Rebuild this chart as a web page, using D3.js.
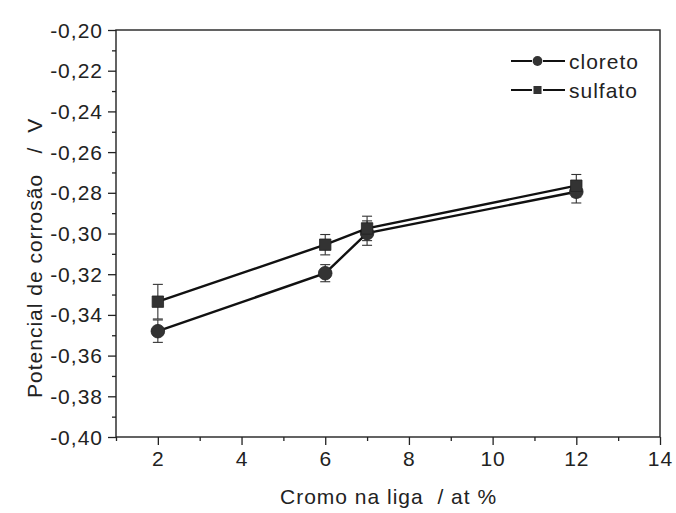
<!DOCTYPE html>
<html>
<head>
<meta charset="utf-8">
<script src="https://cdn.jsdelivr.net/npm/d3@7"></script>
<style>
  body { margin: 0; background: #fff; }
  text { font-family: "Liberation Sans", Arial, sans-serif; fill: #222; letter-spacing: 1px; }
  .title { white-space: pre; }
</style>
</head>
<body>
<svg id="chart" width="676" height="513"></svg>
<script>
// data
const cromo = [2, 6, 7, 12];
const cloreto = [-0.348, -0.3195, -0.2998, -0.2795];
const cloretoErr = [0.0055, 0.0042, 0.006, 0.0055];
const sulfato = [-0.3335, -0.3055, -0.2975, -0.2765];
const sulfatoErr = [0.0085, 0.005, 0.006, 0.0055];
const xTicks = [2, 4, 6, 8, 10, 12, 14];
const yTicks = [-0.40, -0.38, -0.36, -0.34, -0.32, -0.30, -0.28, -0.26, -0.24, -0.22, -0.20];

const svg = d3.select('#chart');
const W = 676, H = 513;
const m = {left: 116, right: 16, top: 30, bottom: 76};

const x = d3.scaleLinear().domain([1, 14]).range([m.left, W - m.right]);
const y = d3.scaleLinear().domain([-0.40, -0.20]).range([H - m.bottom, m.top]);

const fmt = d => d3.format('.2f')(d).replace('.', ',').replace('−', '-');

// frame
svg.append('rect')
   .attr('x', x(1)).attr('y', y(-0.20))
   .attr('width', x(14) - x(1)).attr('height', y(-0.40) - y(-0.20))
   .attr('fill', 'none').attr('stroke', '#222').attr('stroke-width', 1.4);

// x axis
const xAx = svg.append('g').attr('transform', `translate(0,${y(-0.40)})`);
xAx.call(d3.axisBottom(x).tickValues(d3.range(1, 15)).tickFormat(''))
   .call(g => g.select('.domain').remove())
   .call(g => g.selectAll('.tick line').attr('stroke', '#222').attr('stroke-width', 1.3)
                .attr('y2', d => d % 2 === 0 ? 8 : 4));
xAx.call(g => g.selectAll('.xl').data(xTicks).join('text')
   .attr('class', 'xl')
   .attr('x', d => x(d) + 0.5).attr('y', 29)
   .attr('text-anchor', 'middle')
   .attr('font-size', 21)
   .text(d => d));

// y axis
const yAx = svg.append('g').attr('transform', `translate(${x(1)},0)`);
yAx.call(d3.axisLeft(y).tickValues(d3.range(0, 21).map(i => -0.40 + i * 0.01)).tickFormat(''))
   .call(g => g.select('.domain').remove())
   .call(g => g.selectAll('.tick line').attr('stroke', '#222').attr('stroke-width', 1.3)
                .attr('x2', (d, i) => i % 2 === 0 ? -8 : -4));
yAx.call(g => g.selectAll('.yl').data(yTicks).join('text')
   .attr('class', 'yl')
   .attr('x', -13).attr('y', d => y(d))
   .attr('dy', '0.36em')
   .attr('text-anchor', 'end')
   .attr('font-size', 21)
   .text(fmt));

// axis titles
svg.append('text').attr('class', 'title')
   .attr('x', 280).attr('y', 504)
   .attr('font-size', 21)
   .text('Cromo na liga  / at %');
svg.append('text').attr('class', 'title')
   .attr('transform', `translate(42,398) rotate(-90)`)
   .attr('font-size', 21)
   .text('Potencial de corrosão   /  V');

const line = d3.line().x(d => x(d[0])).y(d => y(d[1]));

function drawSeries(vals, errs, shape) {
  const pts = cromo.map((c, i) => [c, vals[i], errs[i]]);
  const g = svg.append('g');
  g.append('path').datum(pts)
   .attr('d', line).attr('fill', 'none')
   .attr('stroke', '#111').attr('stroke-width', 2.4);
  // error bars
  const eb = g.selectAll('.eb').data(pts).join('g');
  eb.append('line')
    .attr('x1', d => x(d[0])).attr('x2', d => x(d[0]))
    .attr('y1', d => y(d[1] - d[2])).attr('y2', d => y(d[1] + d[2]))
    .attr('stroke', '#333').attr('stroke-width', 1.1);
  [-1, 1].forEach(s => eb.append('line')
    .attr('x1', d => x(d[0]) - 5).attr('x2', d => x(d[0]) + 5)
    .attr('y1', d => y(d[1] + s * d[2])).attr('y2', d => y(d[1] + s * d[2]))
    .attr('stroke', '#333').attr('stroke-width', 1.1));
  // markers
  g.selectAll('.mk').data(pts).join('path')
   .attr('transform', d => `translate(${x(d[0])},${y(d[1])})`)
   .attr('d', d3.symbol().type(shape).size(shape === d3.symbolCircle ? 145 : 130))
   .attr('fill', '#333').attr('stroke', '#222').attr('stroke-width', 0.8);
}

drawSeries(cloreto, cloretoErr, d3.symbolCircle);
drawSeries(sulfato, sulfatoErr, d3.symbolSquare);

// legend
const legend = [
  {name: 'cloreto', shape: d3.symbolCircle, y: 61},
  {name: 'sulfato', shape: d3.symbolSquare, y: 90}
];
const lg = svg.append('g');
legend.forEach(l => {
  [[511, 532], [543, 565]].forEach(([a, b]) => lg.append('line')
    .attr('x1', a).attr('x2', b)
    .attr('y1', l.y).attr('y2', l.y)
    .attr('stroke', '#111').attr('stroke-width', 2));
  lg.append('path')
    .attr('transform', `translate(${537.5},${l.y})`)
    .attr('d', d3.symbol().type(l.shape).size(l.shape === d3.symbolCircle ? 75 : 65))
    .attr('fill', '#333');
  lg.append('text')
    .attr('x', 569).attr('y', l.y).attr('dy', '0.36em')
    .attr('font-size', 21)
    .text(l.name);
});
</script>
</body>
</html>
